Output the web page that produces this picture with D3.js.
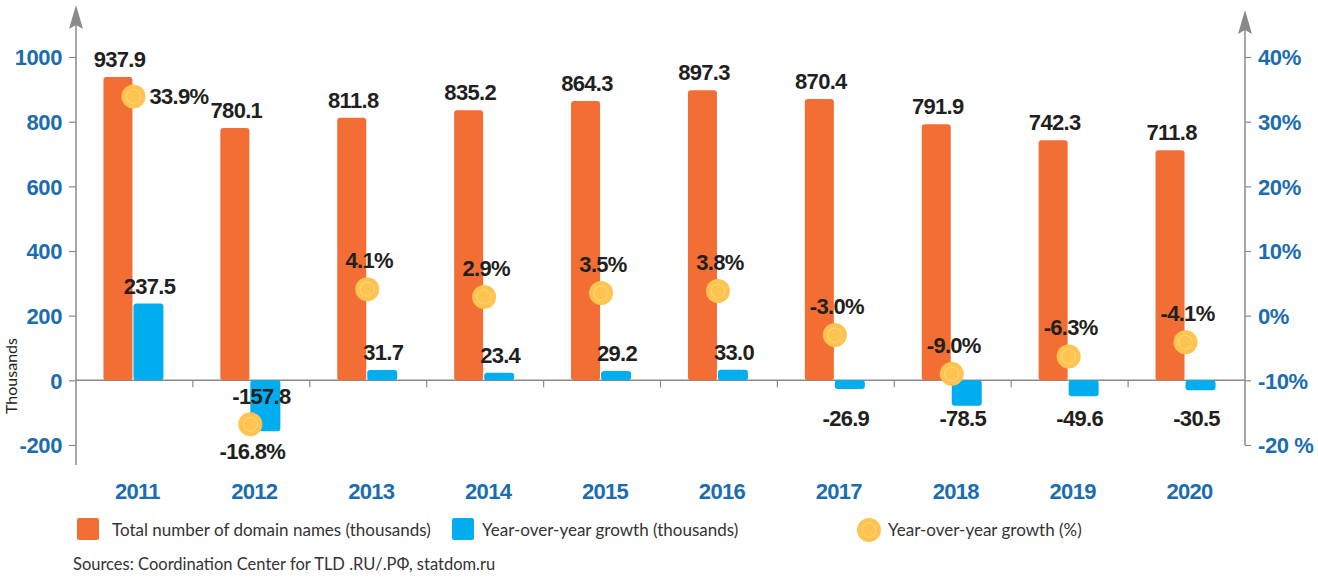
<!DOCTYPE html>
<html>
<head>
<meta charset="utf-8">
<script src="https://cdn.jsdelivr.net/npm/d3@7"></script>
<style>
  html, body { margin: 0; padding: 0; background: #fff; }
  svg { display: block; }
</style>
</head>
<body>
<svg id="chart" width="1318" height="579"></svg>
<script>
const years = ["2011","2012","2013","2014","2015","2016","2017","2018","2019","2020"];
const totalDomains = [937.9, 780.1, 811.8, 835.2, 864.3, 897.3, 870.4, 791.9, 742.3, 711.8];
const growthAbs = [237.5, -157.8, 31.7, 23.4, 29.2, 33.0, -26.9, -78.5, -49.6, -30.5];
const growthPct = [33.9, -16.8, 4.1, 2.9, 3.5, 3.8, -3.0, -9.0, -6.3, -4.1];
const leftTicks = [-200, 0, 200, 400, 600, 800, 1000];
const rightTicks = [-20, -10, 0, 10, 20, 30, 40];
const legendLabels = ["Total number of domain names (thousands)", "Year-over-year growth (thousands)", "Year-over-year growth (%)"];
const sourceText = "Sources: Coordination Center for TLD .RU/.РФ, statdom.ru";

const ORANGE = "#F26E35", BLUE = "#00AEEF", YELLOW = "#FFC44F", AXIS = "#8a8a8a";
const TICKBLUE = "#1B6DAE", DARK = "#231F20";
const BOLD = "'Liberation Sans', Arial, sans-serif";
const REG = "Lato, 'Liberation Sans', Arial, sans-serif";
const fmt1 = v => v.toFixed(1);

const svg = d3.select("#chart");
const x = d3.scaleBand().domain(years).range([76, 1245]).padding(0);
const y = d3.scaleLinear().domain([-200, 1000]).range([445, 57]);
const yR = d3.scaleLinear().domain([-20, 40]).range([445, 57]);
const bw = x.bandwidth();
const gc = d => x(d) + bw / 2 - 1;
const data = years.map((yr, i) => ({yr, total: totalDomains[i], g: growthAbs[i], p: growthPct[i]}));

// zero baseline
const y0 = y(0);
svg.append("line").attr("x1", 76).attr("x2", 1245).attr("y1", y0).attr("y2", y0)
  .attr("stroke", AXIS).attr("stroke-width", 1.5);
svg.selectAll(".bnd").data(years.slice(1)).join("line")
  .attr("x1", d => x(d)).attr("x2", d => x(d)).attr("y1", y0).attr("y2", y0 + 7)
  .attr("stroke", AXIS).attr("stroke-width", 1.2);

// left axis
const la = svg.append("g").attr("transform", "translate(76,0)")
  .call(d3.axisLeft(y).tickValues(leftTicks).tickSize(7).tickPadding(7).tickFormat(d => String(d)));
la.select(".domain").remove();
la.selectAll(".tick line").attr("stroke", AXIS).attr("stroke-width", 1.2);
la.selectAll(".tick text").attr("fill", TICKBLUE).attr("font-family", BOLD)
  .attr("font-weight", "bold").attr("font-size", 22).attr("dy", "0.35em").attr("letter-spacing", -0.4);
svg.append("line").attr("x1", 76).attr("x2", 76).attr("y1", 22).attr("y2", 465)
  .attr("stroke", AXIS).attr("stroke-width", 1.5);
svg.append("path").attr("d", "M76,5 L83,29 L76,25 L69,29 Z").attr("fill", AXIS);

// right axis
const ra = svg.append("g").attr("transform", "translate(1245,0)")
  .call(d3.axisRight(yR).tickValues(rightTicks).tickSize(6).tickPadding(7)
    .tickFormat(d => d === -20 ? "-20 %" : d + "%"));
ra.select(".domain").remove();
ra.selectAll(".tick line").attr("stroke", AXIS).attr("stroke-width", 1.2);
ra.selectAll(".tick text").attr("fill", TICKBLUE).attr("font-family", BOLD)
  .attr("font-weight", "bold").attr("font-size", 22).attr("dy", "0.35em").attr("letter-spacing", -0.4);
svg.append("line").attr("x1", 1245).attr("x2", 1245).attr("y1", 28).attr("y2", yR(-20))
  .attr("stroke", AXIS).attr("stroke-width", 1.5);
svg.append("path").attr("d", "M1245,10 L1252,34 L1245,30 L1238,34 Z").attr("fill", AXIS);

// Thousands label
svg.append("text").attr("transform", "translate(17,376) rotate(-90)")
  .attr("text-anchor", "middle").attr("font-family", REG).attr("font-size", 16)
  .attr("fill", DARK).text("Thousands");

// bars
svg.selectAll(".ob").data(data).join("rect")
  .attr("x", d => gc(d.yr) - 30).attr("width", 29)
  .attr("y", d => y(d.total)).attr("height", d => y0 - y(d.total))
  .attr("rx", 3).attr("fill", ORANGE);
svg.selectAll(".bb").data(data).join("rect")
  .attr("x", d => gc(d.yr)).attr("width", 30)
  .attr("y", d => y(Math.max(0, d.g))).attr("height", d => Math.abs(y(d.g) - y0))
  .attr("rx", 3).attr("fill", BLUE);

// dots
svg.selectAll(".dot").data(data).join("circle")
  .attr("cx", d => gc(d.yr)).attr("cy", d => yR(d.p)).attr("r", 12).attr("fill", YELLOW);
svg.selectAll(".dotring").data(data).join("circle")
  .attr("cx", d => gc(d.yr)).attr("cy", d => yR(d.p)).attr("r", 7)
  .attr("fill", "none").attr("stroke", "#FFDB8E").attr("stroke-width", 0.8);

const lbl = (sel) => sel.attr("font-family", BOLD).attr("font-weight", "bold")
  .attr("font-size", 22).attr("fill", DARK).attr("letter-spacing", -0.7);

// total labels
svg.selectAll(".tl").data(data).join("text").call(lbl)
  .attr("x", d => gc(d.yr) - 14).attr("y", d => y(d.total) - 10)
  .attr("text-anchor", "middle").text(d => fmt1(d.total));

// growth labels
svg.selectAll(".gl").data(data).join("text").call(lbl)
  .attr("x", d => gc(d.yr) + (d.g >= 0 ? 16 : 11))
  .attr("y", d => d.g >= 0 ? y(d.g) - 10 : y0 + (d.g < -100 ? 24 : 46))
  .attr("text-anchor", "middle").text(d => fmt1(d.g));

// pct labels
svg.selectAll(".pl").data(data).join("text").call(lbl)
  .attr("x", d => d.p > 20 ? gc(d.yr) + 16 : gc(d.yr) + 2)
  .attr("y", d => d.p > 20 ? yR(d.p) + 8 : (d.p < -15 ? yR(d.p) + 35 : yR(d.p) - 21))
  .attr("text-anchor", d => d.p > 20 ? "start" : "middle")
  .text(d => fmt1(d.p) + "%");

// year labels
svg.selectAll(".yl").data(years).join("text")
  .attr("x", d => x(d) + bw / 2 + 3).attr("y", 499).attr("text-anchor", "middle")
  .attr("font-family", BOLD).attr("font-weight", "bold").attr("font-size", 22)
  .attr("fill", TICKBLUE).attr("letter-spacing", -0.7).text(d => d);

// legend
const lg = svg.append("g");
lg.append("rect").attr("x", 77).attr("y", 518).attr("width", 22).attr("height", 22).attr("rx", 2).attr("fill", ORANGE);
lg.append("text").attr("x", 112).attr("y", 536).attr("font-family", REG).attr("font-size", 17)
  .attr("fill", "#333").text(legendLabels[0]);
lg.append("rect").attr("x", 452).attr("y", 518).attr("width", 22).attr("height", 22).attr("rx", 2).attr("fill", BLUE);
lg.append("text").attr("x", 482).attr("y", 536).attr("font-family", REG).attr("font-size", 17)
  .attr("fill", "#333").text(legendLabels[1]);
lg.append("circle").attr("cx", 869).attr("cy", 530).attr("r", 12).attr("fill", YELLOW);
lg.append("circle").attr("cx", 869).attr("cy", 530).attr("r", 7).attr("fill", "none")
  .attr("stroke", "#FFDB8E").attr("stroke-width", 0.8);
lg.append("text").attr("x", 888).attr("y", 536).attr("font-family", REG).attr("font-size", 17)
  .attr("fill", "#333").text(legendLabels[2]);

svg.append("text").attr("x", 73).attr("y", 570).attr("font-family", REG).attr("font-size", 16.5)
  .attr("fill", "#333").text(sourceText);
</script>
</body>
</html>
